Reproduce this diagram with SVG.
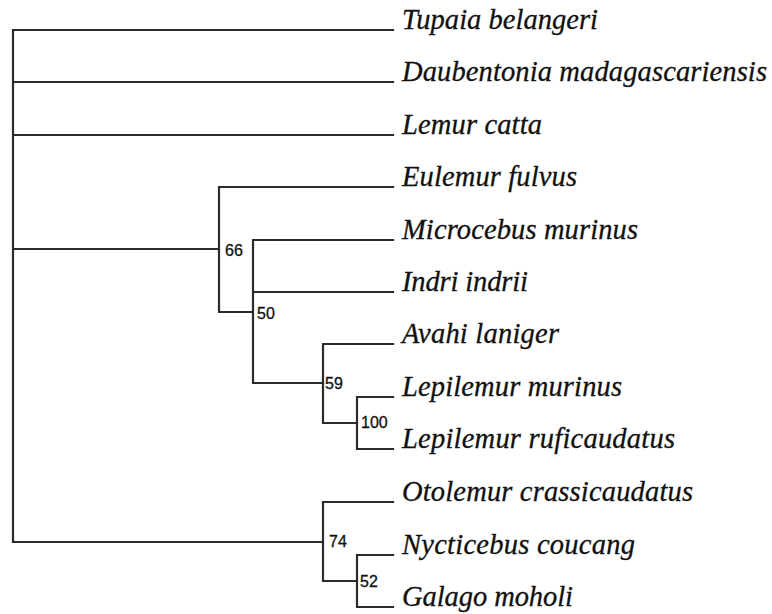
<svg xmlns="http://www.w3.org/2000/svg" width="772" height="614" viewBox="0 0 772 614">
<style>
.br{fill:none;stroke:#2b2b2b;stroke-width:2.2;stroke-linecap:square}
.tx{font-family:"Liberation Serif","Times New Roman",serif;font-style:italic;font-size:28.5px;fill:#111;stroke:#111;stroke-width:0.3}
.bs{font-family:"Liberation Sans",Arial,sans-serif;font-size:16px;fill:#111;stroke:#111;stroke-width:0.3}
</style>
<rect width="772" height="614" fill="#fff"/>
<g id="connectors">
<path class="br" d="M13,30V542M13,30H393M13,82H393M13,135H393M13,249H219M13,542H323"/>
<path class="br" d="M219,187V312M219,187H393M219,312H253"/>
<path class="br" d="M253,240V383M253,240H393M253,292H393M253,383H323"/>
<path class="br" d="M323,344V423M323,344H393M323,423H357"/>
<path class="br" d="M357,397V449M357,397H393M357,449H393"/>
<path class="br" d="M323,502V581M323,502H393M323,581H357"/>
<path class="br" d="M357,555V607M357,555H393M357,607H393"/>
</g>
<g id="leaf-tupaia"><text class="tx" x="402" y="29" textLength="196">Tupaia belangeri</text></g>
<g id="leaf-daubentonia"><text class="tx" x="402" y="81" textLength="365">Daubentonia madagascariensis</text></g>
<g id="leaf-lemur"><text class="tx" x="402" y="134" textLength="140">Lemur catta</text></g>
<g id="leaf-eulemur"><text class="tx" x="402" y="186" textLength="175">Eulemur fulvus</text></g>
<g id="leaf-microcebus"><text class="tx" x="402" y="239" textLength="236">Microcebus murinus</text></g>
<g id="leaf-indri"><text class="tx" x="402" y="291" textLength="126">Indri indrii</text></g>
<g id="leaf-avahi"><text class="tx" x="402" y="343" textLength="157">Avahi laniger</text></g>
<g id="leaf-lepmurinus"><text class="tx" x="402" y="396" textLength="220">Lepilemur murinus</text></g>
<g id="leaf-lepruficaudatus"><text class="tx" x="402" y="448" textLength="273">Lepilemur ruficaudatus</text></g>
<g id="leaf-otolemur"><text class="tx" x="402" y="501" textLength="291">Otolemur crassicaudatus</text></g>
<g id="leaf-nycticebus"><text class="tx" x="402" y="554" textLength="233">Nycticebus coucang</text></g>
<g id="leaf-galago"><text class="tx" x="402" y="606" textLength="171">Galago moholi</text></g>
<g id="node-66"><text class="bs" x="225" y="256">66</text></g>
<g id="node-50"><text class="bs" x="257" y="319">50</text></g>
<g id="node-59"><text class="bs" x="325" y="389">59</text></g>
<g id="node-100"><text class="bs" x="361" y="428">100</text></g>
<g id="node-74"><text class="bs" x="329" y="547">74</text></g>
<g id="node-52"><text class="bs" x="360" y="587">52</text></g>
</svg>
